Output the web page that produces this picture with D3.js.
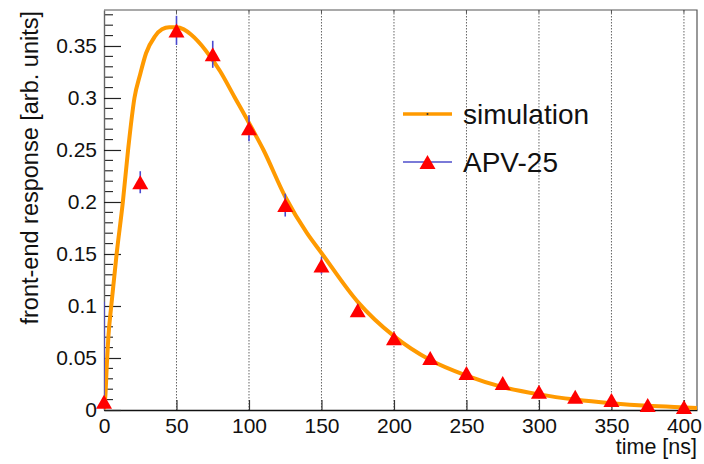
<!DOCTYPE html>
<html>
<head>
<meta charset="utf-8">
<script src="https://cdn.jsdelivr.net/npm/d3@7"></script>
<style>
  body { margin: 0; background: #fff; }
  svg { display: block; font-family: "Liberation Sans", Arial, sans-serif; }
</style>
</head>
<body>
<div id="chart"></div>
<script>
// simulation curve
const simTime = [0, 1, 2, 3, 5, 8.7, 13, 16.6, 21, 25, 29, 35, 40, 45, 50, 55, 60, 70, 80, 90, 100, 110, 125, 140, 150, 175, 200, 225, 250, 275, 300, 325, 350, 375, 400, 409];
const simResp = [0, 0.015, 0.045, 0.07, 0.10, 0.15, 0.20, 0.25, 0.30, 0.323, 0.343, 0.359, 0.366, 0.368, 0.368, 0.366, 0.361, 0.346, 0.326, 0.301, 0.276, 0.25, 0.205, 0.17, 0.151, 0.104, 0.071, 0.048, 0.033, 0.022, 0.015, 0.010, 0.0065, 0.004, 0.0025, 0.002];

// APV-25 measurement
const apvTime = [0, 25, 50, 75, 100, 125, 150, 175, 200, 225, 250, 275, 300, 325, 350, 375, 400];
const apvResp = [0.008, 0.219, 0.365, 0.342, 0.271, 0.197, 0.139, 0.096, 0.069, 0.05, 0.0355, 0.026, 0.0175, 0.0128, 0.0096, 0.0048, 0.003];
const apvErr  = [0.096, 0.0106, 0.014, 0.013, 0.0125, 0.011, 0.008, 0.006, 0.005, 0.004, 0.003, 0.003, 0.002, 0.002, 0.002, 0.002, 0.002];

const xTicks = [0, 50, 100, 150, 200, 250, 300, 350, 400];
const yTicks = [0, 0.05, 0.1, 0.15, 0.2, 0.25, 0.3, 0.35];
const legendLabels = ['simulation', 'APV-25'];

const W = 704, H = 464;
const frame = { left: 104, right: 697, top: 10, bottom: 410 };
const ORANGE = '#ff9a00';
const BLUE = '#4a4ad0';
const RED = '#ff0000';

const x = d3.scaleLinear().domain([0, 409]).range([frame.left, frame.right]);
const y = d3.scaleLinear().domain([0, 0.3846]).range([frame.bottom, frame.top]);

const svg = d3.select('#chart').append('svg')
    .attr('width', W)
    .attr('height', H);

svg.append('defs').append('clipPath').attr('id', 'clip')
    .append('rect')
    .attr('x', frame.left).attr('y', frame.top)
    .attr('width', frame.right - frame.left)
    .attr('height', frame.bottom - frame.top);

// vertical dotted grid
svg.append('g').selectAll('line')
    .data(xTicks.filter(d => d > 0))
    .join('line')
    .attr('x1', d => x(d)).attr('x2', d => x(d))
    .attr('y1', frame.top).attr('y2', frame.bottom)
    .attr('stroke', '#666')
    .attr('stroke-width', 1)
    .attr('stroke-dasharray', '1.5,1.5');

// frame top / right
svg.append('path')
    .attr('d', `M${frame.left},${frame.top}H${frame.right}V${frame.bottom}`)
    .attr('fill', 'none')
    .attr('stroke', '#555')
    .attr('stroke-width', 1.2);

// x axis: ticks pointing up, labels below
const xAxis = d3.axisBottom(x).tickValues(xTicks).tickSizeInner(-10).tickSizeOuter(0).tickPadding(8);
const gx = svg.append('g').attr('transform', `translate(0,${frame.bottom})`).call(xAxis);
gx.select('.domain').attr('stroke', '#111').attr('stroke-width', 1.4);
gx.selectAll('.tick line').attr('stroke', '#333').attr('stroke-width', 1.2);
gx.selectAll('.tick text').attr('font-size', 21).attr('fill', '#111')
    .attr('font-family', '"Liberation Sans", Arial, sans-serif');

// small top ticks
svg.append('g').selectAll('line')
    .data(xTicks.filter(d => d > 0))
    .join('line')
    .attr('x1', d => x(d)).attr('x2', d => x(d))
    .attr('y1', frame.top).attr('y2', frame.top + 3)
    .attr('stroke', '#555');

// y axis: minor ticks every 0.01
const yMinor = d3.range(1, 39).map(i => i / 100).filter(v => Math.round(v * 100) % 5 !== 0);
svg.append('g').selectAll('line')
    .data(yMinor)
    .join('line')
    .attr('x1', frame.left).attr('x2', frame.left + 9)
    .attr('y1', d => y(d)).attr('y2', d => y(d))
    .attr('stroke', '#222').attr('stroke-width', 1.1);

const yAxis = d3.axisLeft(y).tickValues(yTicks).tickSizeInner(-17).tickSizeOuter(0).tickPadding(7)
    .tickFormat(d => d === 0 ? '0' : d3.format('')(d));
const gy = svg.append('g').attr('transform', `translate(${frame.left},0)`).call(yAxis);
gy.select('.domain').attr('stroke', '#666').attr('stroke-width', 1.4);
gy.selectAll('.tick line').attr('stroke', '#222').attr('stroke-width', 1.2);
gy.selectAll('.tick text').attr('font-size', 21).attr('fill', '#111')
    .attr('font-family', '"Liberation Sans", Arial, sans-serif');

// axis titles
svg.append('text')
    .attr('x', frame.right).attr('y', 454)
    .attr('text-anchor', 'end')
    .attr('font-size', 21.5).attr('fill', '#111')
    .text('time [ns]');

svg.append('text')
    .attr('transform', `translate(38,${frame.top + 1}) rotate(-90)`)
    .attr('text-anchor', 'end')
    .attr('font-size', 23.5).attr('fill', '#111')
    .text('front-end response [arb. units]');

const plot = svg.append('g').attr('clip-path', 'url(#clip)');

// simulation curve
const simPts = simTime.map((t, i) => [t, simResp[i]]);
const line = d3.line().x(d => x(d[0])).y(d => y(d[1])).curve(d3.curveMonotoneX);
plot.append('path')
    .attr('d', line(simPts))
    .attr('fill', 'none')
    .attr('stroke', ORANGE)
    .attr('stroke-width', 4);

// error bars
const apv = apvTime.map((t, i) => ({ t: t, v: apvResp[i], e: apvErr[i] }));
plot.append('g').selectAll('line')
    .data(apv)
    .join('line')
    .attr('x1', d => x(d.t)).attr('x2', d => x(d.t))
    .attr('y1', d => y(Math.max(0, d.v - d.e)))
    .attr('y2', d => y(d.v + d.e))
    .attr('stroke', BLUE)
    .attr('stroke-width', 1.6);

// triangle markers
function tri(cx, cy, w, h) {
    return `M${cx - w / 2},${cy + h / 2}L${cx + w / 2},${cy + h / 2}L${cx},${cy - h / 2}Z`;
}
svg.append('g').selectAll('path')
    .data(apv)
    .join('path')
    .attr('d', d => tri(x(d.t), y(d.v), 16, 14))
    .attr('fill', RED);

// legend
const legX1 = 403, legX2 = 452, legText = 463;
const legY = [114, 162];
svg.append('line')
    .attr('x1', legX1).attr('x2', legX2)
    .attr('y1', legY[0]).attr('y2', legY[0])
    .attr('stroke', ORANGE).attr('stroke-width', 3.5);
svg.append('circle')
    .attr('cx', (legX1 + legX2) / 2).attr('cy', legY[0]).attr('r', 1)
    .attr('fill', '#333');
svg.append('line')
    .attr('x1', legX1).attr('x2', legX2)
    .attr('y1', legY[1]).attr('y2', legY[1])
    .attr('stroke', '#7a7ad8').attr('stroke-width', 2);
svg.append('path')
    .attr('d', tri((legX1 + legX2) / 2, legY[1], 16, 14))
    .attr('fill', RED);

svg.append('g').selectAll('text')
    .data(legendLabels)
    .join('text')
    .attr('x', legText)
    .attr('y', (d, i) => legY[i] + 10)
    .attr('font-size', 28)
    .attr('fill', '#111')
    .text(d => d);
</script>
</body>
</html>
